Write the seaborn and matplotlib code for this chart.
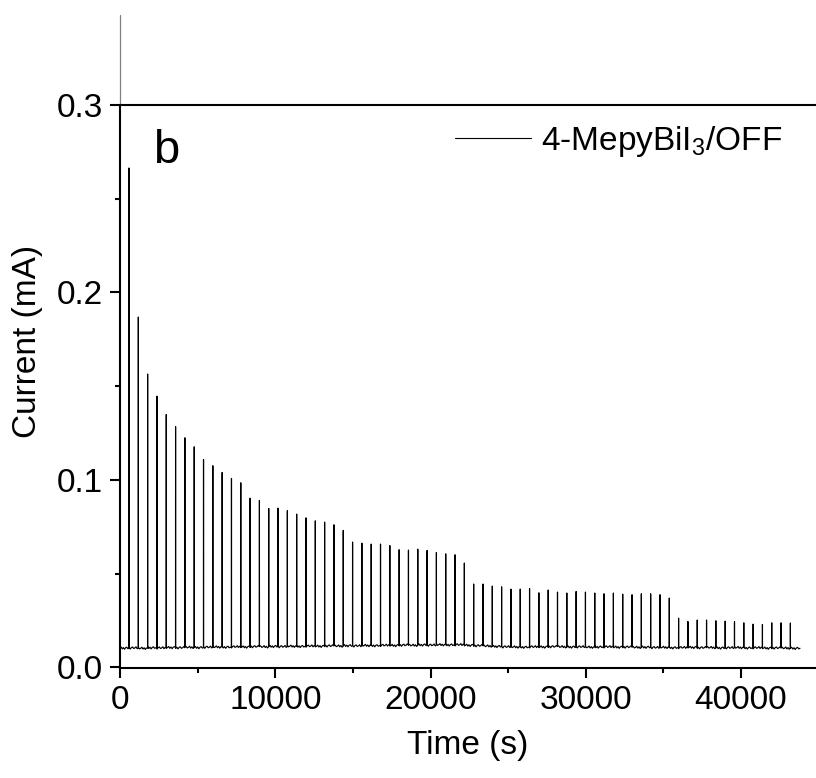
import numpy as np
import pandas as pd
import matplotlib
matplotlib.use("Agg")
import matplotlib.pyplot as plt
import seaborn as sns
from matplotlib.ticker import MultipleLocator, FormatStrFormatter

# ---- data ----
spike_start = 580      # s, first light pulse
spike_period = 600     # s
t_end = 43800          # s, end of record

peak_current = [
    0.2664, 0.1869, 0.1565, 0.1447, 0.1349, 0.1285, 0.1225, 0.1177, 0.1109, 0.1076,
    0.1040, 0.1008, 0.0985, 0.0903, 0.0891, 0.0848, 0.0850, 0.0836, 0.0818, 0.0798,
    0.0782, 0.0775, 0.0761, 0.0731, 0.0669, 0.0663, 0.0658, 0.0658, 0.0650, 0.0628,
    0.0626, 0.0631, 0.0624, 0.0613, 0.0606, 0.0601, 0.0557, 0.0445, 0.0445, 0.0434,
    0.0430, 0.0418, 0.0418, 0.0421, 0.0398, 0.0413, 0.0402, 0.0397, 0.0405, 0.0402,
    0.0397, 0.0393, 0.0397, 0.0391, 0.0388, 0.0393, 0.0393, 0.0388, 0.0370, 0.0263,
    0.0245, 0.0253, 0.0253, 0.0249, 0.0247, 0.0244, 0.0238, 0.0231, 0.0229, 0.0238,
    0.0238, 0.0237,
]

baseline_current = [
    0.0103, 0.0104, 0.0102, 0.0105, 0.0104, 0.0106, 0.0105, 0.0107, 0.0106, 0.0108,
    0.0109, 0.0108, 0.0110, 0.0109, 0.0111, 0.0110, 0.0112, 0.0111, 0.0113, 0.0112,
    0.0114, 0.0113, 0.0115, 0.0114, 0.0116, 0.0115, 0.0117, 0.0116, 0.0118, 0.0117,
    0.0119, 0.0118, 0.0120, 0.0119, 0.0121, 0.0120, 0.0121, 0.0118, 0.0116, 0.0114,
    0.0112, 0.0110, 0.0109, 0.0108, 0.0110, 0.0109, 0.0111, 0.0110, 0.0109, 0.0110,
    0.0108, 0.0109, 0.0110, 0.0108, 0.0109, 0.0107, 0.0108, 0.0106, 0.0107, 0.0105,
    0.0106, 0.0107, 0.0105, 0.0106, 0.0104, 0.0105, 0.0106, 0.0104, 0.0105, 0.0103,
    0.0104, 0.0103, 0.0102,
]

wiggle = [0.0, 0.0006, -0.0004, 0.0003, -0.0006, 0.0002, 0.0005, -0.0003]

series_label = "4-MepyBiI$_3$/OFF"
x_label = "Time (s)"
y_label = "Current (mA)"
panel_label = "b"

# ---- build the trace from the values above ----
t_vals, i_vals = [], []
seg_start = 0.0
n_w = len(wiggle)
for k, peak in enumerate(peak_current + [None]):
    ts = spike_start + spike_period * k if peak is not None else t_end
    base = baseline_current[k]
    n_pts = 8
    for j in range(n_pts):
        tt = seg_start + (ts - seg_start) * j / n_pts
        t_vals.append(tt)
        i_vals.append(base + wiggle[(j + 3 * k) % n_w])
    if peak is not None:
        t_vals += [ts - 4, ts, ts + 4]
        i_vals += [base, peak, base + 0.0005]
        seg_start = ts + 4
    else:
        t_vals.append(t_end)
        i_vals.append(base)

df = pd.DataFrame({"Time": t_vals, "Current": i_vals, "Series": series_label})

# ---- style ----
sns.set_theme(style="ticks")
plt.rcParams["font.family"] = ["Liberation Sans", "DejaVu Sans"]
plt.rcParams["mathtext.fontset"] = "custom"
plt.rcParams["mathtext.rm"] = "Liberation Sans"
plt.rcParams["mathtext.default"] = "regular"
plt.rcParams["text.color"] = "black"
plt.rcParams["axes.labelcolor"] = "black"
plt.rcParams["xtick.color"] = "black"
plt.rcParams["ytick.color"] = "black"
plt.rcParams["xtick.labelcolor"] = "black"
plt.rcParams["ytick.labelcolor"] = "black"

fig = plt.figure(figsize=(8.16, 7.78), dpi=100)
ax = fig.add_axes([120 / 816, 110 / 778, 696 / 816, 653 / 778])

sns.lineplot(data=df, x="Time", y="Current", hue="Series", palette=["black"],
             estimator=None, sort=False, linewidth=0.85, ax=ax, legend=True)

ax.set_xlim(0, 44830)
ax.set_ylim(-0.0003, 0.348)

for s in ["top", "right"]:
    ax.spines[s].set_visible(False)
ax.spines["left"].set_linewidth(1.5)
ax.spines["bottom"].set_linewidth(1.5)
ax.spines["left"].set_bounds(-0.0003, 0.3)
ax.spines["left"].set_color("black")
ax.spines["bottom"].set_color("black")
ax.axhline(0.3, color="black", lw=1.5)
ax.plot([0, 0], [0.3, 0.348], color="#808080", lw=0.9, clip_on=False)

ax.xaxis.set_major_locator(MultipleLocator(10000))
ax.xaxis.set_minor_locator(MultipleLocator(5000))
ax.set_yticks([0.0, 0.1, 0.2, 0.3])
ax.yaxis.set_minor_locator(MultipleLocator(0.05))
ax.yaxis.set_major_formatter(FormatStrFormatter("%.1f"))
ax.tick_params(which="major", length=7, width=1.5, labelsize=24, color="black",
               labelcolor="black", direction="out", pad=5)
ax.tick_params(which="minor", length=3.6, width=1.5, color="black", direction="out")

ax.set_xlabel(x_label, fontsize=24, labelpad=10, color="black")
ax.set_ylabel(y_label, fontsize=24, labelpad=10, color="black")

ax.text(0.047, 0.773, panel_label, transform=ax.transAxes, fontsize=34,
        va="baseline", ha="left", color="black")

leg = ax.legend(loc="center left", bbox_to_anchor=(0.481, 0.807), frameon=False,
                fontsize=24, handlelength=2.3, handletextpad=0.3,
                borderpad=0, borderaxespad=0, title=None)
for h in leg.get_lines():
    h.set_linewidth(0.8)
for txt in leg.get_texts():
    txt.set_color("black")

fig.savefig("out.png", dpi=100)
